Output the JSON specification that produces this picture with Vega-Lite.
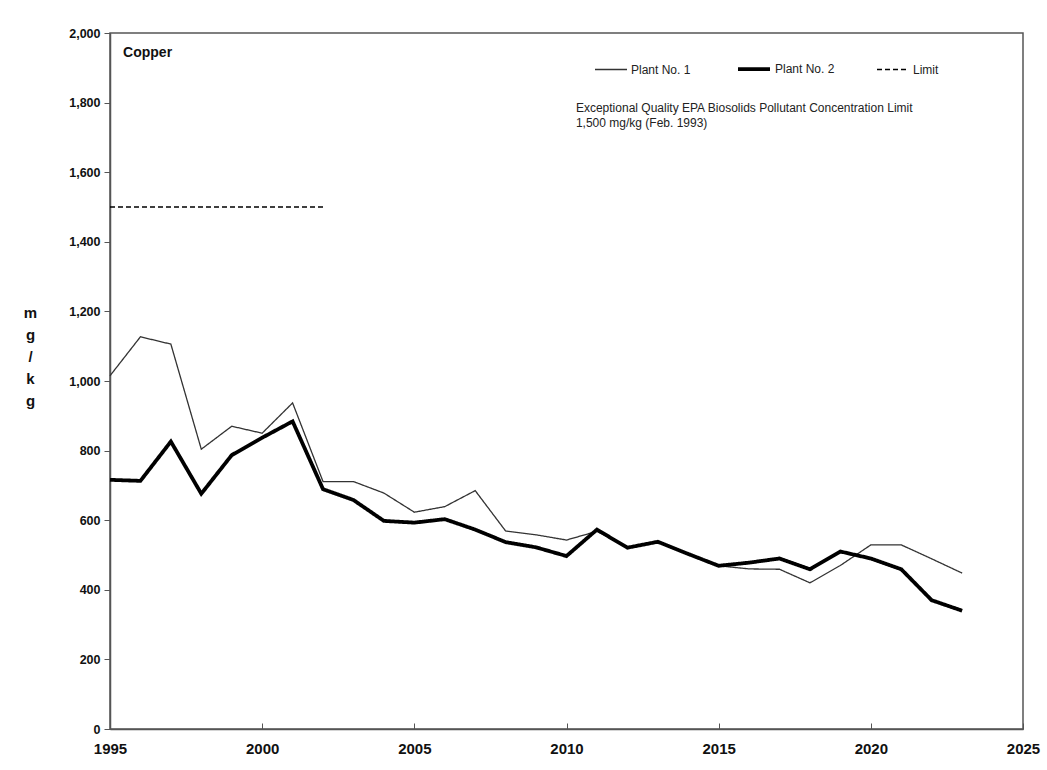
{
  "$schema": "https://vega.github.io/schema/vega-lite/v6.json",
  "width": 913,
  "height": 696,
  "autosize": "none",
  "padding": {"left": 110, "top": 33, "right": 24, "bottom": 41},
  "background": "white",
  "config": {
    "font": "Liberation Sans",
    "view": {"stroke": "#555", "strokeWidth": 1.5},
    "legend": {
      "orient": "none",
      "legendX": 484,
      "legendY": 18,
      "direction": "horizontal",
      "symbolType": "stroke",
      "symbolSize": 1024,
      "labelFontSize": 12,
      "labelColor": "#222",
      "labelOffset": 3,
      "columnPadding": 39,
      "padding": 0,
      "offset": 0
    }
  },
  "datasets": {
    "series": [
      {"year": 1995, "value": 1015, "series": "Plant No. 1"},
      {"year": 1996, "value": 1127, "series": "Plant No. 1"},
      {"year": 1997, "value": 1106, "series": "Plant No. 1"},
      {"year": 1998, "value": 804, "series": "Plant No. 1"},
      {"year": 1999, "value": 870, "series": "Plant No. 1"},
      {"year": 2000, "value": 850, "series": "Plant No. 1"},
      {"year": 2001, "value": 937, "series": "Plant No. 1"},
      {"year": 2002, "value": 711, "series": "Plant No. 1"},
      {"year": 2003, "value": 711, "series": "Plant No. 1"},
      {"year": 2004, "value": 678, "series": "Plant No. 1"},
      {"year": 2005, "value": 623, "series": "Plant No. 1"},
      {"year": 2006, "value": 639, "series": "Plant No. 1"},
      {"year": 2007, "value": 685, "series": "Plant No. 1"},
      {"year": 2008, "value": 569, "series": "Plant No. 1"},
      {"year": 2009, "value": 558, "series": "Plant No. 1"},
      {"year": 2010, "value": 543, "series": "Plant No. 1"},
      {"year": 2011, "value": 568, "series": "Plant No. 1"},
      {"year": 2012, "value": 522, "series": "Plant No. 1"},
      {"year": 2013, "value": 537, "series": "Plant No. 1"},
      {"year": 2014, "value": 503, "series": "Plant No. 1"},
      {"year": 2015, "value": 469, "series": "Plant No. 1"},
      {"year": 2016, "value": 460, "series": "Plant No. 1"},
      {"year": 2017, "value": 459, "series": "Plant No. 1"},
      {"year": 2018, "value": 420, "series": "Plant No. 1"},
      {"year": 2019, "value": 470, "series": "Plant No. 1"},
      {"year": 2020, "value": 529, "series": "Plant No. 1"},
      {"year": 2021, "value": 529, "series": "Plant No. 1"},
      {"year": 2022, "value": 489, "series": "Plant No. 1"},
      {"year": 2023, "value": 448, "series": "Plant No. 1"},
      {"year": 1995, "value": 716, "series": "Plant No. 2"},
      {"year": 1996, "value": 713, "series": "Plant No. 2"},
      {"year": 1997, "value": 826, "series": "Plant No. 2"},
      {"year": 1998, "value": 676, "series": "Plant No. 2"},
      {"year": 1999, "value": 787, "series": "Plant No. 2"},
      {"year": 2000, "value": 837, "series": "Plant No. 2"},
      {"year": 2001, "value": 884, "series": "Plant No. 2"},
      {"year": 2002, "value": 689, "series": "Plant No. 2"},
      {"year": 2003, "value": 658, "series": "Plant No. 2"},
      {"year": 2004, "value": 598, "series": "Plant No. 2"},
      {"year": 2005, "value": 593, "series": "Plant No. 2"},
      {"year": 2006, "value": 603, "series": "Plant No. 2"},
      {"year": 2007, "value": 573, "series": "Plant No. 2"},
      {"year": 2008, "value": 537, "series": "Plant No. 2"},
      {"year": 2009, "value": 522, "series": "Plant No. 2"},
      {"year": 2010, "value": 497, "series": "Plant No. 2"},
      {"year": 2011, "value": 573, "series": "Plant No. 2"},
      {"year": 2012, "value": 521, "series": "Plant No. 2"},
      {"year": 2013, "value": 538, "series": "Plant No. 2"},
      {"year": 2014, "value": 503, "series": "Plant No. 2"},
      {"year": 2015, "value": 469, "series": "Plant No. 2"},
      {"year": 2016, "value": 478, "series": "Plant No. 2"},
      {"year": 2017, "value": 490, "series": "Plant No. 2"},
      {"year": 2018, "value": 459, "series": "Plant No. 2"},
      {"year": 2019, "value": 510, "series": "Plant No. 2"},
      {"year": 2020, "value": 490, "series": "Plant No. 2"},
      {"year": 2021, "value": 459, "series": "Plant No. 2"},
      {"year": 2022, "value": 370, "series": "Plant No. 2"},
      {"year": 2023, "value": 340, "series": "Plant No. 2"},
      {"year": 1995, "value": 1500, "series": "Limit"},
      {"year": 2002, "value": 1500, "series": "Limit"}
    ]
  },
  "layer": [
    {
      "data": {"name": "series"},
      "mark": {"type": "line", "strokeCap": "butt", "strokeJoin": "miter"},
      "encoding": {
        "x": {
          "field": "year",
          "type": "quantitative",
          "scale": {"domain": [1995, 2025], "nice": false, "zero": false},
          "axis": {
            "title": null,
            "values": [1995, 2000, 2005, 2010, 2015, 2020, 2025],
            "format": "d",
            "grid": false,
            "domainColor": "#555",
            "domainWidth": 1.5,
            "tickColor": "#555",
            "tickWidth": 1,
            "tickSize": -6,
            "labelPadding": 18,
            "labelFontSize": 15,
            "labelFontWeight": "bold",
            "labelColor": "#111",
            "labelFlush": false,
            "labelBaseline": "top"
          }
        },
        "y": {
          "field": "value",
          "type": "quantitative",
          "scale": {"domain": [0, 2000], "nice": false},
          "axis": {
            "title": ["m", "g", "/", "k", "g"],
            "titleAngle": 0,
            "titleAlign": "center",
            "titleBaseline": "top",
            "titleX": -80,
            "titleY": 272,
            "titleFontSize": 15,
            "titleFontWeight": "bold",
            "titleLineHeight": 22,
            "titleColor": "#111",
            "values": [0, 200, 400, 600, 800, 1000, 1200, 1400, 1600, 1800, 2000],
            "format": ",d",
            "grid": false,
            "domainColor": "#555",
            "domainWidth": 1.5,
            "tickColor": "#555",
            "tickWidth": 1,
            "tickSize": 6,
            "labelPadding": 4,
            "labelFontSize": 12.5,
            "labelFontWeight": "bold",
            "labelColor": "#111"
          }
        },
        "color": {
          "field": "series",
          "type": "nominal",
          "scale": {"domain": ["Plant No. 1", "Plant No. 2", "Limit"], "range": ["#333333", "#000000", "#000000"]},
          "legend": {"title": null}
        },
        "strokeWidth": {
          "field": "series",
          "type": "nominal",
          "scale": {"type": "ordinal", "domain": ["Plant No. 1", "Plant No. 2", "Limit"], "range": [1.3, 3.8, 1.4]},
          "legend": {"title": null}
        },
        "strokeDash": {
          "field": "series",
          "type": "nominal",
          "scale": {"domain": ["Plant No. 1", "Plant No. 2", "Limit"], "range": [[1, 0], [1, 0], [5, 3]]},
          "legend": {"title": null}
        }
      }
    },
    {
      "data": {"values": [{"label": "Copper"}]},
      "mark": {"type": "text", "align": "left", "baseline": "alphabetic", "fontSize": 14, "fontWeight": "bold", "color": "#111"},
      "encoding": {
        "x": {"datum": 1995.43, "type": "quantitative"},
        "y": {"datum": 1931, "type": "quantitative"},
        "text": {"field": "label"}
      }
    },
    {
      "data": {"values": [{"label": ["Exceptional Quality EPA Biosolids Pollutant Concentration Limit", "1,500 mg/kg  (Feb. 1993)"]}]},
      "mark": {"type": "text", "align": "left", "baseline": "alphabetic", "fontSize": 12, "lineHeight": 15, "color": "#222"},
      "encoding": {
        "x": {"datum": 2010.31, "type": "quantitative"},
        "y": {"datum": 1774, "type": "quantitative"},
        "text": {"field": "label"}
      }
    }
  ]
}
